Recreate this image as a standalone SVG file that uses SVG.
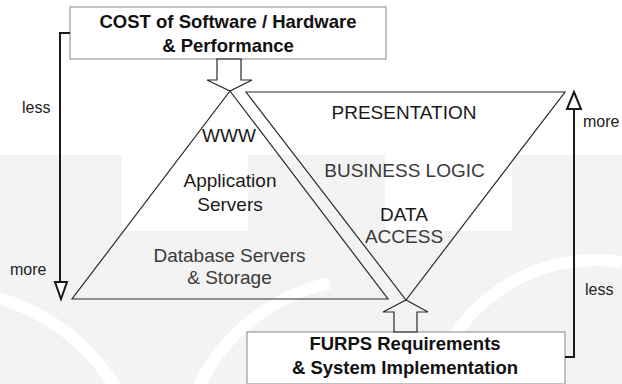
<svg xmlns="http://www.w3.org/2000/svg" width="622" height="384" viewBox="0 0 622 384">
  <style>
    .lbl { font-family: "Liberation Sans", Arial, sans-serif; font-size: 19px; fill: #1a1a1a; text-anchor: middle; }
    .dim { fill: #3a3a3a; }
    .title { font-family: "Liberation Sans", Arial, sans-serif; font-size: 18.5px; font-weight: bold; fill: #111; text-anchor: middle; }
    .side { font-family: "Liberation Sans", Arial, sans-serif; font-size: 16px; fill: #222; }
    .box { fill: #fff; stroke: #9a9a9a; stroke-width: 1.2; }
    .edge { fill: none; stroke: #2a2a2a; stroke-width: 1.2; stroke-linejoin: miter; }
    .flow { fill: none; stroke: #1a1a1a; stroke-width: 2; }
    .head { fill: #fff; stroke: #1a1a1a; stroke-width: 2; stroke-linejoin: miter; }
  </style>

  <!-- faint backdrop -->
  <g id="backdrop">
    <rect x="0" y="0" width="622" height="384" fill="#fff"/>
    <rect x="0" y="155" width="622" height="229" fill="#f3f3f3"/>
    <rect x="122" y="155" width="126" height="76" fill="#fff"/>
    <rect x="385" y="155" width="127" height="76" fill="#fff"/>
    <g fill="none" stroke="#fff" stroke-width="12">
      <path d="M -10 296 A 200 200 0 0 1 118 392"/>
      <path d="M 196 392 A 190 190 0 0 1 330 283"/>
      <path d="M 430 392 A 170 170 0 0 1 622 262"/>
    </g>
  </g>

  <!-- stacks -->
  <g id="hardware-stack">
    <polygon class="edge" points="230,91 388,299 72,299"/>
    <text class="lbl" x="229" y="142">WWW</text>
    <text class="lbl" x="230" y="187">Application</text>
    <text class="lbl" x="230" y="211">Servers</text>
    <text class="lbl dim" x="229.5" y="262">Database Servers</text>
    <text class="lbl dim" x="229.5" y="284">&amp; Storage</text>
  </g>

  <g id="software-stack">
    <polygon class="edge" points="246,92 565,92 406,300"/>
    <text class="lbl" x="404" y="119">PRESENTATION</text>
    <text class="lbl dim" x="404.5" y="177">BUSINESS LOGIC</text>
    <text class="lbl" x="404" y="221">DATA</text>
    <text class="lbl dim" x="404" y="243">ACCESS</text>
  </g>

  <!-- boxes -->
  <g id="cost">
    <rect class="box" x="70" y="7" width="316" height="52"/>
    <text class="title" x="228" y="28">COST of Software / Hardware</text>
    <text class="title" x="228" y="52">&amp; Performance</text>
  </g>

  <g id="furps">
    <rect class="box" x="247" y="332" width="318" height="52"/>
    <text class="title" x="405" y="350">FURPS Requirements</text>
    <text class="title" x="405" y="374">&amp; System Implementation</text>
  </g>

  <!-- connectors -->
  <g id="connectors">
    <polygon class="edge" points="217,59 217,80 207,80 230,91 252,80 241,80 241,59"/>
    <polygon class="edge" points="394,332 394,312 383,312 406,300 428,312 417,312 417,332"/>

    <polyline class="flow" points="70,33 60,33 60,283"/>
    <polygon class="head" points="55,282 67,282 61,299"/>

    <polyline class="flow" points="565,357 574,357 574,108"/>
    <polygon class="head" points="567,109 581,109 574,92"/>

    <text class="side" x="22" y="113">less</text>
    <text class="side" x="10" y="275">more</text>
    <text class="side" x="583" y="127">more</text>
    <text class="side" x="585" y="295">less</text>
  </g>
</svg>
